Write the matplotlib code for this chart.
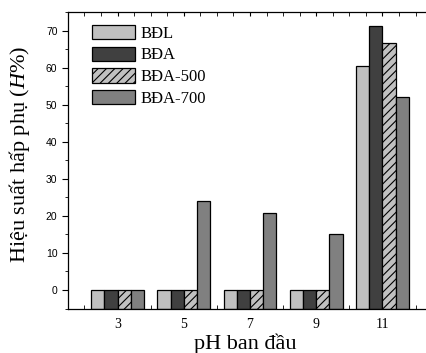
import matplotlib
matplotlib.use("Agg")
import matplotlib.pyplot as plt
import numpy as np

ph = [3, 5, 7, 9, 11]
series = ["BĐL", "BĐA", "BĐA-500", "BĐA-700"]
bdl = [0, 0, 0, 0, 60.5]
bda = [0, 0, 0, 0, 71.2]
bda500 = [0, 0, 0, 0, 66.7]
bda700 = [0, 23.9, 20.8, 15.2, 52.1]

colors = ["#c0c0c0", "#404040", "#c0c0c0", "#808080"]
hatches = [None, None, "////", None]

plt.rcParams['hatch.linewidth'] = 0.8
plt.rcParams['mathtext.fontset'] = 'custom'
plt.rcParams['mathtext.it'] = 'Liberation Serif:italic'
plt.rcParams['mathtext.rm'] = 'Liberation Serif'

fig = plt.figure(figsize=(4.27, 3.53), dpi=100)
ax = fig.add_axes([0.159, 0.126, 0.853, 0.840])

base = -5
width = 0.4
x = np.array(ph, dtype=float)
for i, (name, vals) in enumerate(zip(series, [bdl, bda, bda500, bda700])):
    vals = np.array(vals)
    ax.bar(x + (i - 1.5) * width, vals - base, width, bottom=base,
           color=colors[i], edgecolor="black", linewidth=0.9,
           hatch=hatches[i], label=name, zorder=2)

ax.set_xlim(1.5, 12.5)
ax.set_ylim(-5, 75)
ax.set_xticks(ph)
ax.set_xticks(np.arange(1.5, 12.6, 0.5), minor=True)
ax.set_yticks(range(0, 71, 10))
ax.set_yticks(range(-5, 76, 5), minor=True)

ax.tick_params(axis='x', which='both', direction='in', top=True, length=3,
               labelsize=10, pad=7)
ax.tick_params(axis='y', which='major', direction='out', length=4, labelsize=7.5)
ax.tick_params(axis='y', which='minor', direction='out', length=2)
for lab in ax.get_xticklabels():
    lab.set_family('Liberation Serif')
for lab in ax.get_yticklabels():
    lab.set_family('Liberation Sans')

ax.spines['right'].set_visible(False)
for s in ax.spines.values():
    s.set_linewidth(0.9)

ax.set_xlabel("pH ban đầu", family='Liberation Serif', fontsize=16)
ax.xaxis.set_label_coords(0.487, -0.084)
ax.set_ylabel("Hiệu suất hấp phụ ($\\mathit{H\\%}$)", family='Liberation Serif',
              fontsize=16)
ax.yaxis.set_label_coords(-0.098, 0.52)

leg = ax.legend(loc='upper left', bbox_to_anchor=(0.038, 0.99), frameon=False,
                prop={'family': 'Liberation Serif', 'size': 12},
                handlelength=2.6, handleheight=0.95, handletextpad=0.3,
                labelspacing=0.28, borderaxespad=0.2)

fig.savefig("out.png", dpi=100)
